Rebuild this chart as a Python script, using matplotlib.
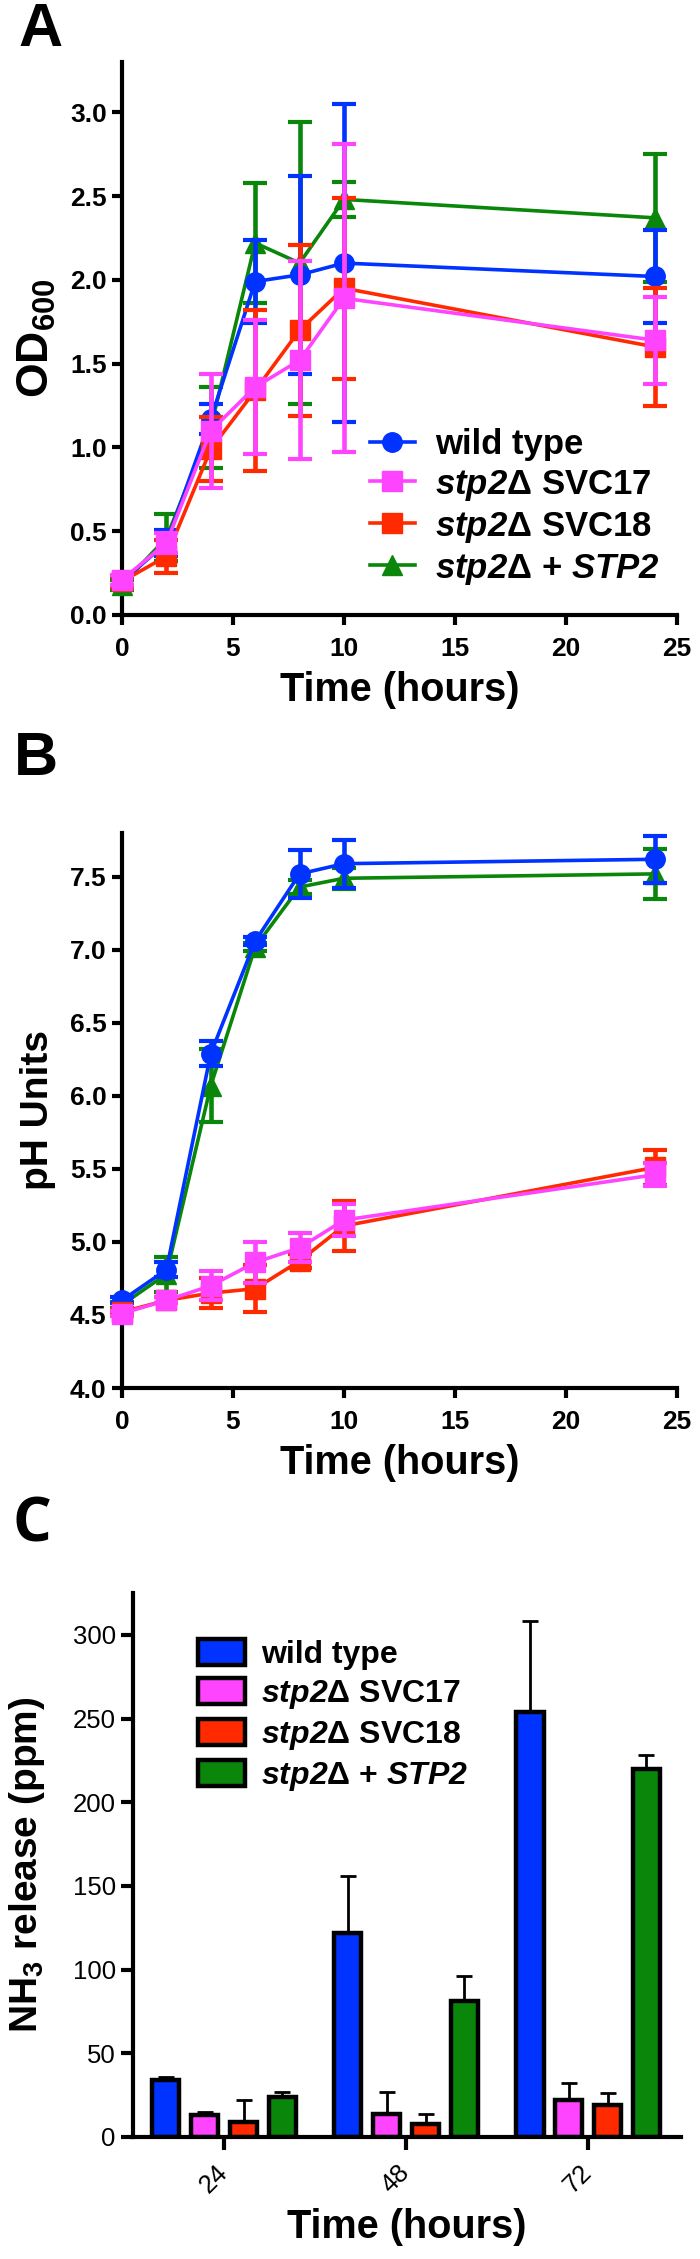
import numpy as np
import matplotlib
matplotlib.use("Agg")
import matplotlib.pyplot as plt
from matplotlib.lines import Line2D

plt.rcParams['font.family'] = ['Liberation Sans', 'DejaVu Sans']
plt.rcParams['mathtext.fontset'] = 'custom'
plt.rcParams['mathtext.rm'] = 'Liberation Sans'
plt.rcParams['mathtext.bf'] = 'Liberation Sans:bold'
plt.rcParams['mathtext.it'] = 'Liberation Sans:italic'
plt.rcParams['mathtext.bfit'] = 'Liberation Sans:bold:italic'

# ---- data ----
hours = [0, 2, 4, 6, 8, 10, 24]

# panel A: OD600
od_wt = [0.20, 0.43, 1.17, 1.99, 2.03, 2.10, 2.02]
od_wt_err = [0.03, 0.08, 0.09, 0.245, 0.59, 0.95, 0.28]
od_svc17 = [0.21, 0.43, 1.10, 1.36, 1.52, 1.89, 1.64]
od_svc17_err = [0.03, 0.06, 0.34, 0.40, 0.59, 0.92, 0.26]
od_svc18 = [0.20, 0.35, 0.99, 1.34, 1.70, 1.95, 1.60]
od_svc18_err = [0.03, 0.10, 0.19, 0.48, 0.51, 0.54, 0.35]
od_stp2 = [0.18, 0.46, 1.12, 2.22, 2.10, 2.48, 2.37]
od_stp2_err = [0.03, 0.14, 0.24, 0.36, 0.84, 0.105, 0.38]

# panel B: pH
ph_wt = [4.60, 4.81, 6.29, 7.06, 7.52, 7.59, 7.62]
ph_wt_err = [0.02, 0.05, 0.085, 0.03, 0.165, 0.165, 0.16]
ph_svc17 = [4.51, 4.60, 4.70, 4.86, 4.96, 5.15, 5.46]
ph_svc17_err = [0.02, 0.02, 0.10, 0.14, 0.10, 0.11, 0.08]
ph_svc18 = [4.52, 4.60, 4.65, 4.68, 4.87, 5.11, 5.51]
ph_svc18_err = [0.02, 0.02, 0.10, 0.16, 0.05, 0.17, 0.12]
ph_stp2 = [4.57, 4.78, 6.07, 7.02, 7.43, 7.49, 7.52]
ph_stp2_err = [0.02, 0.12, 0.25, 0.03, 0.05, 0.07, 0.17]

# panel C: NH3 release
nh3_times = ['24', '48', '72']
nh3_wt = [34, 122, 254]
nh3_wt_err = [2, 34, 54]
nh3_svc17 = [13, 14, 22]
nh3_svc17_err = [2, 13, 10]
nh3_svc18 = [9, 8, 19]
nh3_svc18_err = [13, 6, 7]
nh3_stp2 = [24, 81, 220]
nh3_stp2_err = [3, 15, 8]

lab_wt = 'wild type'
lab_17 = r'$\mathbfit{stp2}\mathbf{\Delta}$ SVC17'
lab_18 = r'$\mathbfit{stp2}\mathbf{\Delta}$ SVC18'
lab_st = r'$\mathbfit{stp2}\mathbf{\Delta}$ + $\mathbfit{STP2}$'

c_blue = '#0033ff'
c_pink = '#ff44ff'
c_red = '#ff2a00'
c_green = '#0a870a'

W, H = 700, 2259
fig = plt.figure(figsize=(W / 100, H / 100), dpi=100)


def box(l, t, r, b):
    return [l / W, 1 - b / H, (r - l) / W, (b - t) / H]


def style_axes(ax, bold=True):
    for s in ['top', 'right']:
        ax.spines[s].set_visible(False)
    for s in ['left', 'bottom']:
        ax.spines[s].set_linewidth(3)
    ax.tick_params(width=3, length=7.5, labelsize=19)
    ax.tick_params(axis='y', pad=3.5)
    ax.tick_params(axis='x', pad=8)
    if bold:
        for t in ax.get_xticklabels() + ax.get_yticklabels():
            t.set_fontweight('bold')


def line_panel(ax, series):
    for y, e, col, mk, lab, z in series:
        ax.errorbar(hours, y, yerr=e, color=col, marker=mk, markersize=14,
                    linewidth=2.6, elinewidth=3.3, capsize=8.5, capthick=3,
                    label=lab, zorder=z, clip_on=False)
    ax.set_xlim(0, 25)
    ax.set_xticks([0, 5, 10, 15, 20, 25])


# ---- panel A ----
axA = fig.add_axes(box(122, 62, 677, 615))
line_panel(axA, [
    (od_wt, od_wt_err, c_blue, 'o', lab_wt, 4),
    (od_svc17, od_svc17_err, c_pink, 's', lab_17, 6),
    (od_svc18, od_svc18_err, c_red, 's', lab_18, 5),
    (od_stp2, od_stp2_err, c_green, '^', lab_st, 3),
])
axA.set_ylim(0, 3.3)
axA.set_yticks([0, 0.5, 1.0, 1.5, 2.0, 2.5, 3.0])
axA.set_yticklabels(['0.0', '0.5', '1.0', '1.5', '2.0', '2.5', '3.0'])
style_axes(axA)
axA.set_ylabel(r'$\mathbf{OD}_{\mathbf{600}}$', fontsize=32)
axA.yaxis.set_label_coords(-0.115, 0.5)
axA.set_xlabel('Time (hours)', fontsize=28.5, fontweight='bold')
axA.xaxis.set_label_coords(0.5, -0.102)
handles = [Line2D([], [], color=c, marker=m, markersize=14, linewidth=2.6)
           for c, m in [(c_blue, 'o'), (c_pink, 's'), (c_red, 's'), (c_green, '^')]]
axA.legend(handles, [lab_wt, lab_17, lab_18, lab_st], loc='lower right',
           bbox_to_anchor=(1.025, -0.005), frameon=False, handlelength=1.3,
           handletextpad=0.58, labelspacing=0.2, borderpad=0.4,
           prop={'size': 25, 'weight': 'bold'})

# ---- panel B ----
axB = fig.add_axes(box(122, 833, 677, 1388))
line_panel(axB, [
    (ph_wt, ph_wt_err, c_blue, 'o', lab_wt, 4),
    (ph_svc17, ph_svc17_err, c_pink, 's', lab_17, 6),
    (ph_svc18, ph_svc18_err, c_red, 's', lab_18, 5),
    (ph_stp2, ph_stp2_err, c_green, '^', lab_st, 3),
])
axB.set_ylim(4.0, 7.8)
axB.set_yticks([4.0, 4.5, 5.0, 5.5, 6.0, 6.5, 7.0, 7.5])
axB.set_yticklabels(['4.0', '4.5', '5.0', '5.5', '6.0', '6.5', '7.0', '7.5'])
style_axes(axB)
axB.set_ylabel('pH Units', fontsize=28, fontweight='bold')
axB.yaxis.set_label_coords(-0.119, 0.5)
axB.set_xlabel('Time (hours)', fontsize=28.5, fontweight='bold')
axB.xaxis.set_label_coords(0.5, -0.1)

# ---- panel C ----
axC = fig.add_axes(box(133, 1593, 681, 2137))
x = np.arange(len(nh3_times))
bw = 0.15
offs = [-0.32, -0.107, 0.107, 0.32]
for o, v, e, col, lab in zip(offs,
                             [nh3_wt, nh3_svc17, nh3_svc18, nh3_stp2],
                             [nh3_wt_err, nh3_svc17_err, nh3_svc18_err, nh3_stp2_err],
                             [c_blue, c_pink, c_red, c_green],
                             [lab_wt, lab_17, lab_18, lab_st]):
    axC.bar(x + o, v, bw, color=col, edgecolor='black', linewidth=3.2, label=lab,
            yerr=[np.zeros(len(e)), e], capsize=5.5,
            error_kw={'elinewidth': 2, 'capthick': 2, 'ecolor': 'black'})
axC.set_xlim(-0.5, 2.51)
axC.set_ylim(0, 325)
axC.set_yticks([0, 50, 100, 150, 200, 250, 300])
axC.set_xticks(x)
axC.set_xticklabels(nh3_times, rotation=45, ha='right', va='center',
                    rotation_mode='anchor')
style_axes(axC, bold=False)
axC.tick_params(labelsize=18.5)
axC.tick_params(axis='x', length=9, pad=14)
axC.tick_params(axis='y', length=9, pad=3.5)
axC.set_ylabel(r'$\mathbf{NH}_{\mathbf{3}}$ release (ppm)', fontsize=28,
               fontweight='bold')
axC.yaxis.set_label_coords(-0.157, 0.5)
axC.set_xlabel('Time (hours)', fontsize=28.5, fontweight='bold')
axC.xaxis.set_label_coords(0.5, -0.13)
axC.legend(loc='upper left', bbox_to_anchor=(0.067, 0.969), frameon=False,
           handlelength=1.47, handleheight=0.875, handletextpad=0.5,
           labelspacing=0.25, borderpad=0.4,
           prop={'size': 23, 'weight': 'bold'})

# panel letters
fig.text(18 / W, 1 - 2 / H, 'A', fontsize=44, fontweight='bold', va='top')
fig.text(14 / W, 1 - 731 / H, 'B', fontsize=44, fontweight='bold', va='top')
fig.text(12 / W, 1 - 1496 / H, 'C', fontsize=44, fontweight='bold', va='top',
         family=['Open Sans', 'DejaVu Sans'])

fig.savefig('out.png', dpi=100)
